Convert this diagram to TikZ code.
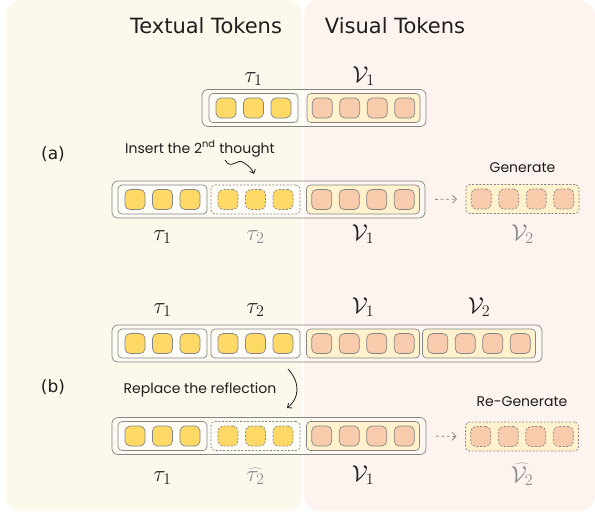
\RequirePackage{fix-cm}
\documentclass[tikz,border=0pt]{standalone}
\usepackage[no-math]{fontspec}
\usetikzlibrary{arrows.meta}

\newfontfamily\headfont{DejaVu Sans}
\newfontfamily\notefont{Poppins}

\definecolor{panelL}{HTML}{FDF8EC}
\definecolor{panelR}{HTML}{FDF4EF}
\definecolor{tokY}{HTML}{FFD966}
\definecolor{tokP}{HTML}{F8CBAD}
\definecolor{grpV}{HTML}{FFF2CC}
\definecolor{edge}{HTML}{858585}
\definecolor{faded}{HTML}{8A8A8A}
\definecolor{ink}{HTML}{1E1E1E}

% #1 name, #2 centre x, #3 centre y, #4 width, #5 token count, #6 group style, #7 token style
\newcommand\tokgroup[7]{%
  \node[#6, minimum width=#4pt] (#1) at (#2,#3) {};
  \foreach \k in {1,...,#5} {
    \node[#7] (#1-\k) at ({#2+(\k-(#5+1)/2)*27.5},#3) {};
  }%
}

\begin{document}
\begin{tikzpicture}[x=1pt,y=-1pt,
  tok/.style={draw=edge, line width=0.7pt, rounded corners=5pt,
    minimum width=20pt, minimum height=20pt, inner sep=0pt, outer sep=0pt},
  ytok/.style={tok, fill=tokY},
  ptok/.style={tok, fill=tokP},
  ytokd/.style={ytok, dash pattern=on 2pt off 1.6pt},
  ptokd/.style={ptok, dash pattern=on 2pt off 1.6pt},
  grp/.style={draw=edge, line width=0.7pt, rounded corners=4pt,
    minimum height=29pt, inner sep=0pt, outer sep=0pt},
  tgrp/.style={grp, fill=white, fill opacity=0.45},
  tgrpd/.style={tgrp, dash pattern=on 2pt off 1.6pt},
  vgrp/.style={grp, fill=grpV},
  vgrpd/.style={vgrp, dash pattern=on 2pt off 1.6pt},
  outerbox/.style={draw=edge, line width=0.7pt, rounded corners=6pt,
    fill=white, fill opacity=0.35, minimum height=37pt, inner sep=0pt, outer sep=0pt},
  head/.style={anchor=base, inner sep=0pt, font=\headfont\fontsize{21}{25}\selectfont, text=ink},
  tag/.style={anchor=base, inner sep=0pt, font=\headfont\fontsize{17}{20}\selectfont, text=ink},
  note/.style={anchor=base, inner sep=0pt, font=\notefont\fontsize{14}{17}\selectfont, text=ink},
  mlab/.style={anchor=base, inner sep=0pt, font=\fontsize{23}{27}\selectfont, text=ink},
  mlabf/.style={mlab, text=faded},
  dasharrow/.style={draw=faded, line width=0.8pt, dash pattern=on 3pt off 2.5pt,
    -{Straight Barb[length=4pt, width=8pt]}},
  curvearrow/.style={draw=ink, line width=0.8pt, -{Straight Barb[length=3.5pt, width=6pt]}}
]
\useasboundingbox (0,0) rectangle (595,512);

% background panels
\fill[panelL, rounded corners=15pt] (6,0) rectangle (302,511);
\fill[panelR, rounded corners=15pt] (304,0) rectangle (595,511);

% column headings
\node[head] (hT) at (206,33) {Textual Tokens};
\node[head] (hV) at (395,33) {Visual Tokens};

% part labels
\node[tag] (ta) at (53,159) {(a)};
\node[tag] (tb) at (53,392) {(b)};

% ---------- (a) first sequence ----------
\node[outerbox, minimum width=224pt] (r1) at (314,108) {};
\tokgroup{r1t}{253.5}{108}{89}{3}{tgrp}{ytok}
\tokgroup{r1v}{363.5}{108}{113}{4}{vgrp}{ptok}
\node[mlab] (r1lt) at (253.5,82) {$\tau_1$};
\node[mlab] (r1lv) at (363.5,82) {$\mathcal{V}_1$};

% ---------- (a) insertion ----------
\node[note] (ins) at (200,153) {Insert the 2\textsuperscript{nd} thought};
\coordinate (sq0) at (225,160);
\coordinate (sq1) at (244,163);
\coordinate (sq2) at (254,174);
\draw[curvearrow] (sq0) .. controls (231,171) and (238,157) .. (sq1)
  .. controls (249,166) and (252,169) .. (sq2);

\node[outerbox, minimum width=313pt] (r2) at (268.5,199.5) {};
\tokgroup{r2t}{162.5}{199.5}{89}{3}{tgrp}{ytok}
\tokgroup{r2n}{255.5}{199.5}{89}{3}{tgrpd}{ytokd}
\tokgroup{r2v}{363}{199.5}{113}{4}{vgrp}{ptok}
\node[mlab] (r2lt) at (162.5,240) {$\tau_1$};
\node[mlabf] (r2ln) at (255.5,240) {$\tau_2$};
\node[mlab] (r2lv) at (363,240) {$\mathcal{V}_1$};

\node[note] (gen) at (522.5,172) {Generate};
\tokgroup{g2}{522.5}{199}{113}{4}{vgrpd}{ptokd}
\node[mlabf] (g2l) at (522.5,240) {$\mathcal{V}_2$};
\draw[dasharrow, shorten <=10pt, shorten >=9pt] (r2.east) -- (g2.west);

% ---------- (b) full sequence ----------
\node[outerbox, minimum width=430pt] (r3) at (327,343.5) {};
\tokgroup{r3t}{162.5}{343.5}{89}{3}{tgrp}{ytok}
\tokgroup{r3n}{255.5}{343.5}{89}{3}{tgrp}{ytok}
\tokgroup{r3v}{363}{343.5}{113}{4}{vgrp}{ptok}
\tokgroup{r3w}{479}{343.5}{113}{4}{vgrp}{ptok}
\node[mlab] (r3lt) at (162.5,313) {$\tau_1$};
\node[mlab] (r3ln) at (255.5,313) {$\tau_2$};
\node[mlab] (r3lv) at (363,313) {$\mathcal{V}_1$};
\node[mlab] (r3lw) at (479,313) {$\mathcal{V}_2$};

% ---------- (b) replacement ----------
\node[note] (rep) at (200,393) {Replace the reflection};
\coordinate (cv0) at (288,369);
\coordinate (cv1) at (287,408);
\draw[curvearrow] (cv0) .. controls (301,383) and (299,399) .. (cv1);

\node[outerbox, minimum width=314pt] (r4) at (269,436) {};
\tokgroup{r4t}{162.5}{436}{89}{3}{tgrp}{ytok}
\tokgroup{r4n}{255.5}{436}{89}{3}{tgrpd}{ytokd}
\tokgroup{r4v}{363}{436}{113}{4}{vgrp}{ptok}
\node[mlab] (r4lt) at (162.5,481) {$\tau_1$};
\node[mlabf] (r4ln) at (255.5,481) {$\widehat{\tau_2}$};
\node[mlab] (r4lv) at (363,481) {$\mathcal{V}_1$};

\node[note] (regen) at (522,406) {Re-Generate};
\tokgroup{g4}{522}{436.5}{113}{4}{vgrpd}{ptokd}
\node[mlabf] (g4l) at (522,482) {$\widehat{\mathcal{V}_2}$};
\draw[dasharrow, shorten <=10pt, shorten >=9pt] (r4.east) -- (g4.west);

\end{tikzpicture}
\end{document}
